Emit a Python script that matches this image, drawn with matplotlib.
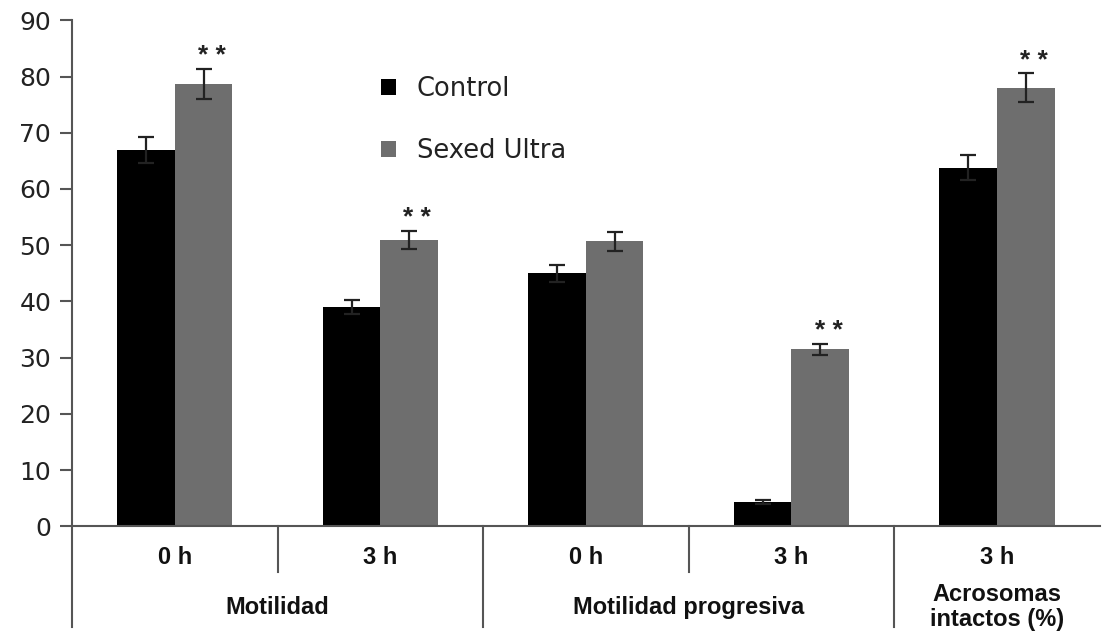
import matplotlib.pyplot as plt
import numpy as np

# datos
cats = ["0 h", "3 h", "0 h", "3 h", "3 h"]
control = [67.0, 39.0, 45.0, 4.3, 63.8]
control_err = [2.3, 1.3, 1.5, 0.3, 2.2]
sexed = [78.7, 51.0, 50.7, 31.5, 78.0]
sexed_err = [2.7, 1.6, 1.7, 1.0, 2.6]
signif = [True, True, False, True, True]
groups = ["Motilidad", "Motilidad progresiva", "Acrosomas\nintactos (%)"]
group_span = [(0, 2), (2, 4), (4, 5)]

fig = plt.figure(figsize=(11.04, 6.34), dpi=100)
ax = fig.add_axes([0.0652, 0.170, 0.931, 0.798])

x = np.arange(len(cats)) + 0.5
w = 0.28
ax.bar(x - w / 2, control, w, color="black", label="Control")
ax.bar(x + w / 2, sexed, w, color="#6e6e6e", label="Sexed Ultra")
ekw = dict(fmt="none", ecolor="#222222", elinewidth=1.6, capsize=6, capthick=1.6)
ax.errorbar(x - w / 2, control, yerr=control_err, **ekw)
ax.errorbar(x + w / 2, sexed, yerr=sexed_err, **ekw)

for i in range(len(cats)):
    if signif[i]:
        ax.text(x[i] + w / 2 + 0.04, sexed[i] + sexed_err[i] + 2.2, "* *", ha="center",
                va="center", fontsize=19, fontweight="bold", color="#222222",
                family="Liberation Sans")

ax.set_xlim(0, len(cats))
ax.set_ylim(0, 90)
ax.set_yticks(range(0, 91, 10))
ax.tick_params(axis="y", labelsize=18, length=9, width=1.5, colors="#555555",
               labelcolor="#222222", pad=6)
ax.set_xticks([])
for s in ["top", "right"]:
    ax.spines[s].set_visible(False)
for s in ["left", "bottom"]:
    ax.spines[s].set_color("#555555")
    ax.spines[s].set_linewidth(1.5)

# etiquetas de categoria y grupos
cat_font = dict(family=["Liberation Sans", "DejaVu Sans"], fontweight="bold")
for i, c in enumerate(cats):
    ax.text(x[i], -0.04, c, transform=ax.get_xaxis_transform(), ha="center",
            va="top", fontsize=17, color="#111111", **cat_font)
for g, (a, b) in zip(groups, group_span):
    ax.text((a + b) / 2, -0.16, g,
            transform=ax.get_xaxis_transform(), ha="center", va="center",
            fontsize=17, color="#111111", linespacing=1.12, **cat_font)

tr = ax.get_xaxis_transform()
line_kw = dict(color="#555555", lw=1.5, clip_on=False, transform=tr)
ax.plot([0, 0], [0, -0.2], **line_kw)
for xb in [1, 3]:
    ax.plot([xb, xb], [0, -0.09], **line_kw)
for xb in [2, 4]:
    ax.plot([xb, xb], [0, -0.2], **line_kw)

leg = ax.legend(loc="upper left", bbox_to_anchor=(0.278, 0.935), frameon=False,
                fontsize=18.5, handlelength=0.6, handleheight=0.6, labelspacing=1.4,
                handletextpad=0.8)
for t in leg.get_texts():
    t.set_color("#222222")

fig.savefig("out.png", dpi=100)
